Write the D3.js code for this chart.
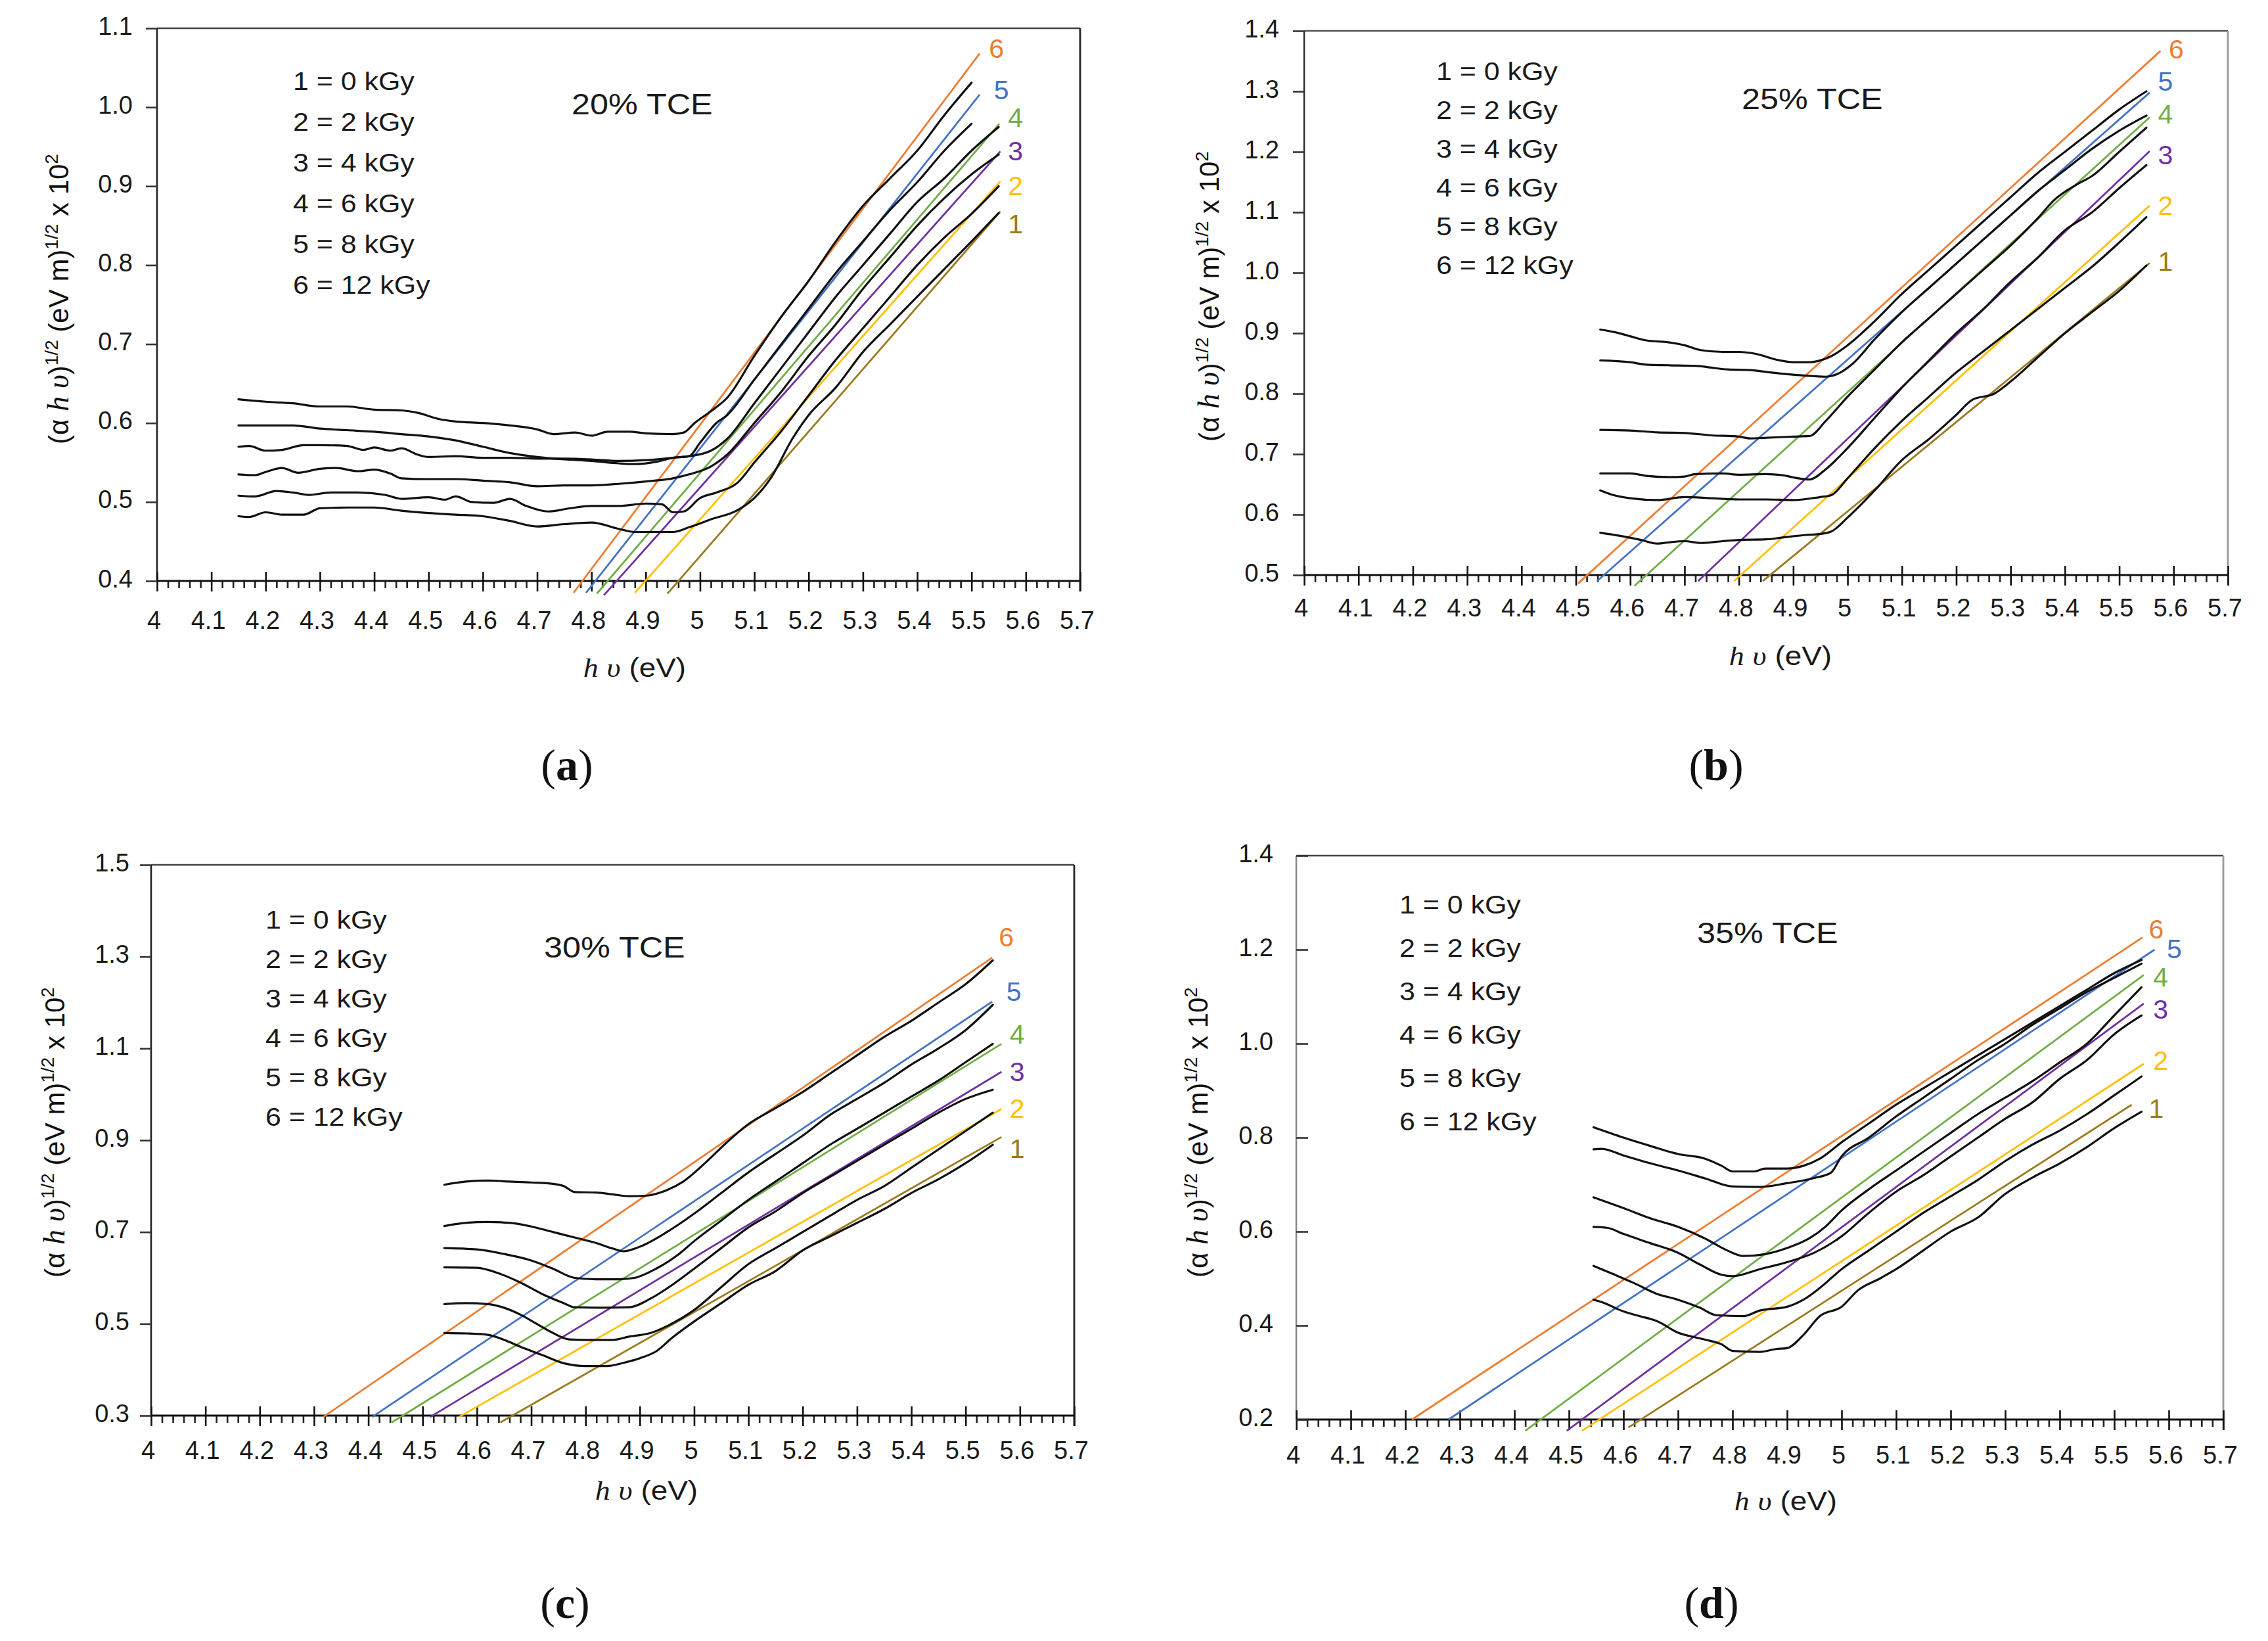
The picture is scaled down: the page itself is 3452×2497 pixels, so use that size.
<!DOCTYPE html>
<html><head><meta charset="utf-8">
<script src="https://cdn.jsdelivr.net/npm/d3@7"></script>
<style>body{margin:0;background:#fff} svg{display:block}</style>
</head><body>
<svg id="chart" width="3452" height="2497"></svg>
<script>
// ---------------- DATA ----------------
const xTickValues = [4,4.1,4.2,4.3,4.4,4.5,4.6,4.7,4.8,4.9,5,5.1,5.2,5.3,5.4,5.5,5.6,5.7];
const xTickLabels = ["4","4.1","4.2","4.3","4.4","4.5","4.6","4.7","4.8","4.9","5","5.1","5.2","5.3","5.4","5.5","5.6","5.7"];
const doseLabels = ["1 = 0 kGy","2 = 2 kGy","3 = 4 kGy","4 = 6 kGy","5 = 8 kGy","6 = 12 kGy"];
const lineNumbers = ["1","2","3","4","5","6"];
const panelTitles = ["20% TCE","25% TCE","30% TCE","35% TCE"];
const panelLetters = ["a","b","c","d"];

const yDomainA = [0.4,1.1], yTicksA = [0.4,0.5,0.6,0.7,0.8,0.9,1.0,1.1], yTickLabelsA = ["0.4","0.5","0.6","0.7","0.8","0.9","1.0","1.1"];
const yDomainB = [0.5,1.4], yTicksB = [0.5,0.6,0.7,0.8,0.9,1.0,1.1,1.2,1.3,1.4], yTickLabelsB = ["0.5","0.6","0.7","0.8","0.9","1.0","1.1","1.2","1.3","1.4"];
const yDomainC = [0.3,1.5], yTicksC = [0.3,0.5,0.7,0.9,1.1,1.3,1.5], yTickLabelsC = ["0.3","0.5","0.7","0.9","1.1","1.3","1.5"];
const yDomainD = [0.2,1.4], yTicksD = [0.2,0.4,0.6,0.8,1.0,1.2,1.4], yTickLabelsD = ["0.2","0.4","0.6","0.8","1.0","1.2","1.4"];

// fitted straight lines, series 1..6: [x0, y0, x1, y1]
const fitsA = [[4.940,0.384,5.553,0.868],[4.880,0.385,5.553,0.906],[4.823,0.382,5.553,0.944],[4.810,0.384,5.551,0.979],[4.790,0.385,5.515,1.016],[4.767,0.385,5.515,1.068]];
const fitsB = [[4.844,0.490,5.556,1.016],[4.791,0.490,5.556,1.111],[4.725,0.490,5.556,1.201],[4.608,0.482,5.556,1.257],[4.539,0.490,5.556,1.298],[4.504,0.486,5.576,1.367]];
const fitsC = [[4.643,0.285,5.566,0.907],[4.567,0.297,5.566,0.968],[4.514,0.297,5.566,1.049],[4.443,0.285,5.566,1.110],[4.407,0.297,5.549,1.202],[4.317,0.297,5.549,1.298]];
const fitsD = [[4.609,0.183,5.532,0.870],[4.524,0.176,5.554,0.957],[4.496,0.176,5.554,1.085],[4.420,0.176,5.554,1.146],[4.279,0.200,5.574,1.200],[4.212,0.200,5.552,1.226]];

// positions of the series numbers at the line ends [x, y]
const numPosA = [[5.581,0.852],[5.581,0.900],[5.581,0.944],[5.581,0.987],[5.555,1.022],[5.546,1.074]];
const numPosB = [[5.585,1.019],[5.585,1.111],[5.585,1.195],[5.585,1.262],[5.585,1.316],[5.605,1.370]];
const numPosC = [[5.595,0.881],[5.595,0.969],[5.595,1.049],[5.595,1.131],[5.589,1.224],[5.575,1.343]];
const numPosD = [[5.577,0.862],[5.585,0.964],[5.585,1.073],[5.585,1.141],[5.610,1.201],[5.577,1.243]];

// measured curves, series 1..6
const curvesA = [
 [[4.15,0.482],[4.17,0.481],[4.2,0.487],[4.23,0.484],[4.27,0.484],[4.3,0.492],[4.35,0.493],[4.4,0.493],[4.45,0.489],[4.5,0.486],[4.55,0.484],[4.6,0.482],[4.65,0.476],[4.7,0.469],[4.75,0.472],[4.8,0.474],[4.85,0.466],[4.88,0.462],[4.95,0.462],[4.98,0.468],[5.02,0.478],[5.07,0.49],[5.1,0.505],[5.13,0.53],[5.17,0.58],[5.2,0.61],[5.25,0.645],[5.3,0.69],[5.35,0.725],[5.4,0.76],[5.45,0.795],[5.5,0.83],[5.55,0.866]],
 [[4.15,0.508],[4.18,0.507],[4.22,0.514],[4.25,0.512],[4.28,0.509],[4.32,0.512],[4.37,0.512],[4.42,0.509],[4.45,0.504],[4.5,0.506],[4.53,0.503],[4.55,0.507],[4.58,0.5],[4.62,0.499],[4.65,0.504],[4.68,0.495],[4.72,0.488],[4.76,0.492],[4.8,0.495],[4.85,0.495],[4.9,0.498],[4.93,0.497],[4.95,0.487],[4.97,0.488],[5.0,0.505],[5.03,0.512],[5.07,0.525],[5.1,0.55],[5.15,0.59],[5.2,0.635],[5.25,0.68],[5.3,0.72],[5.35,0.76],[5.4,0.8],[5.45,0.835],[5.5,0.865],[5.55,0.9]],
 [[4.15,0.535],[4.18,0.534],[4.2,0.538],[4.23,0.543],[4.26,0.537],[4.3,0.542],[4.33,0.543],[4.37,0.539],[4.4,0.541],[4.43,0.536],[4.45,0.53],[4.5,0.529],[4.55,0.529],[4.6,0.527],[4.65,0.525],[4.7,0.52],[4.75,0.521],[4.8,0.521],[4.85,0.523],[4.9,0.526],[4.95,0.53],[4.98,0.535],[5.02,0.545],[5.05,0.56],[5.1,0.6],[5.15,0.64],[5.2,0.685],[5.25,0.725],[5.3,0.77],[5.35,0.81],[5.4,0.85],[5.45,0.885],[5.5,0.915],[5.55,0.94]],
 [[4.15,0.570],[4.17,0.571],[4.2,0.565],[4.23,0.566],[4.27,0.572],[4.3,0.572],[4.35,0.571],[4.38,0.566],[4.4,0.569],[4.43,0.565],[4.45,0.568],[4.48,0.56],[4.5,0.557],[4.55,0.558],[4.6,0.556],[4.65,0.556],[4.7,0.555],[4.75,0.555],[4.8,0.554],[4.85,0.552],[4.9,0.553],[4.95,0.556],[4.98,0.558],[5.02,0.565],[5.05,0.58],[5.1,0.625],[5.15,0.67],[5.2,0.715],[5.25,0.76],[5.3,0.8],[5.35,0.84],[5.4,0.88],[5.45,0.91],[5.5,0.945],[5.55,0.975]],
 [[4.15,0.597],[4.2,0.597],[4.25,0.597],[4.3,0.593],[4.35,0.591],[4.4,0.589],[4.45,0.586],[4.5,0.583],[4.55,0.578],[4.6,0.57],[4.65,0.562],[4.7,0.557],[4.75,0.554],[4.8,0.552],[4.85,0.549],[4.88,0.548],[4.92,0.551],[4.95,0.556],[4.98,0.558],[5.0,0.575],[5.03,0.6],[5.05,0.61],[5.1,0.655],[5.15,0.7],[5.2,0.745],[5.25,0.79],[5.3,0.83],[5.35,0.87],[5.4,0.905],[5.45,0.945],[5.5,0.979]],
 [[4.15,0.630],[4.2,0.627],[4.25,0.625],[4.3,0.621],[4.35,0.621],[4.4,0.617],[4.45,0.616],[4.48,0.613],[4.52,0.605],[4.55,0.602],[4.6,0.600],[4.65,0.597],[4.7,0.592],[4.73,0.586],[4.77,0.588],[4.8,0.584],[4.83,0.589],[4.87,0.589],[4.9,0.587],[4.95,0.586],[4.97,0.588],[4.99,0.6],[5.02,0.615],[5.05,0.632],[5.1,0.685],[5.15,0.735],[5.2,0.78],[5.25,0.83],[5.3,0.875],[5.35,0.91],[5.4,0.945],[5.45,0.99],[5.5,1.031]]
];
const curvesB = [
 [[4.545,0.57],[4.58,0.565],[4.62,0.558],[4.65,0.552],[4.67,0.554],[4.7,0.556],[4.73,0.553],[4.77,0.556],[4.8,0.558],[4.85,0.559],[4.88,0.562],[4.92,0.566],[4.95,0.568],[4.97,0.572],[5.0,0.595],[5.05,0.64],[5.1,0.69],[5.15,0.725],[5.2,0.765],[5.23,0.79],[5.27,0.80],[5.3,0.82],[5.35,0.86],[5.4,0.9],[5.45,0.935],[5.5,0.97],[5.55,1.012]],
 [[4.545,0.64],[4.57,0.632],[4.6,0.627],[4.65,0.624],[4.7,0.629],[4.75,0.627],[4.8,0.625],[4.85,0.625],[4.9,0.624],[4.95,0.629],[4.97,0.632],[5.0,0.66],[5.05,0.71],[5.1,0.755],[5.15,0.795],[5.2,0.835],[5.25,0.87],[5.3,0.905],[5.35,0.94],[5.4,0.975],[5.45,1.01],[5.5,1.05],[5.55,1.092]],
 [[4.545,0.668],[4.6,0.668],[4.63,0.664],[4.67,0.662],[4.7,0.663],[4.72,0.667],[4.77,0.668],[4.8,0.666],[4.85,0.667],[4.88,0.665],[4.91,0.66],[4.93,0.658],[4.96,0.675],[5.0,0.71],[5.05,0.76],[5.1,0.81],[5.15,0.855],[5.2,0.9],[5.25,0.94],[5.3,0.985],[5.35,1.025],[5.4,1.07],[5.45,1.1],[5.5,1.14],[5.55,1.178]],
 [[4.545,0.74],[4.6,0.739],[4.65,0.736],[4.7,0.735],[4.75,0.731],[4.8,0.729],[4.82,0.726],[4.85,0.727],[4.9,0.729],[4.93,0.73],[4.96,0.755],[5.0,0.795],[5.05,0.84],[5.1,0.885],[5.15,0.925],[5.2,0.965],[5.25,1.005],[5.3,1.045],[5.35,1.09],[5.38,1.12],[5.42,1.145],[5.45,1.16],[5.5,1.2],[5.55,1.24]],
 [[4.545,0.855],[4.6,0.852],[4.63,0.848],[4.67,0.847],[4.72,0.846],[4.75,0.843],[4.78,0.84],[4.82,0.839],[4.85,0.836],[4.88,0.833],[4.92,0.83],[4.96,0.828],[4.98,0.832],[5.01,0.85],[5.05,0.89],[5.1,0.935],[5.15,0.975],[5.2,1.015],[5.25,1.055],[5.3,1.095],[5.35,1.135],[5.4,1.17],[5.45,1.205],[5.5,1.235],[5.55,1.26]],
 [[4.545,0.906],[4.57,0.902],[4.6,0.895],[4.63,0.888],[4.67,0.885],[4.7,0.88],[4.73,0.872],[4.77,0.869],[4.8,0.869],[4.83,0.866],[4.87,0.856],[4.9,0.852],[4.93,0.852],[4.95,0.855],[4.97,0.862],[5.0,0.88],[5.05,0.92],[5.1,0.965],[5.15,1.005],[5.2,1.045],[5.25,1.085],[5.3,1.125],[5.35,1.165],[5.4,1.2],[5.45,1.235],[5.5,1.27],[5.55,1.3]]
];
const curvesC = [
 [[4.54,0.48],[4.58,0.479],[4.62,0.476],[4.65,0.465],[4.68,0.45],[4.72,0.432],[4.76,0.414],[4.8,0.408],[4.84,0.408],[4.87,0.415],[4.9,0.425],[4.93,0.44],[4.96,0.47],[5.0,0.505],[5.05,0.545],[5.1,0.585],[5.15,0.615],[5.2,0.66],[5.25,0.69],[5.3,0.72],[5.35,0.75],[5.4,0.785],[5.45,0.815],[5.5,0.85],[5.55,0.89]],
 [[4.54,0.543],[4.58,0.545],[4.62,0.543],[4.65,0.535],[4.68,0.52],[4.71,0.5],[4.74,0.48],[4.77,0.466],[4.8,0.465],[4.85,0.465],[4.88,0.472],[4.92,0.48],[4.95,0.495],[5.0,0.53],[5.05,0.58],[5.1,0.63],[5.15,0.665],[5.2,0.7],[5.25,0.735],[5.3,0.77],[5.35,0.8],[5.4,0.84],[5.45,0.88],[5.5,0.92],[5.55,0.96]],
 [[4.54,0.623],[4.6,0.622],[4.64,0.61],[4.68,0.59],[4.72,0.565],[4.76,0.545],[4.78,0.536],[4.83,0.535],[4.88,0.536],[4.92,0.555],[4.96,0.585],[5.0,0.62],[5.05,0.665],[5.1,0.71],[5.15,0.745],[5.2,0.785],[5.25,0.82],[5.3,0.855],[5.35,0.89],[5.4,0.925],[5.45,0.96],[5.5,0.99],[5.55,1.01]],
 [[4.54,0.665],[4.6,0.662],[4.65,0.652],[4.7,0.638],[4.74,0.62],[4.78,0.6],[4.82,0.597],[4.86,0.597],[4.89,0.6],[4.93,0.62],[4.97,0.65],[5.0,0.68],[5.05,0.725],[5.1,0.77],[5.15,0.81],[5.2,0.85],[5.25,0.89],[5.3,0.925],[5.35,0.96],[5.4,0.995],[5.45,1.03],[5.5,1.07],[5.55,1.11]],
 [[4.54,0.713],[4.58,0.72],[4.62,0.722],[4.66,0.72],[4.7,0.712],[4.74,0.7],[4.78,0.688],[4.82,0.676],[4.85,0.664],[4.87,0.658],[4.9,0.668],[4.95,0.7],[5.0,0.74],[5.05,0.785],[5.1,0.83],[5.15,0.87],[5.2,0.91],[5.25,0.955],[5.3,0.99],[5.35,1.025],[5.4,1.065],[5.45,1.1],[5.5,1.14],[5.55,1.195]],
 [[4.54,0.803],[4.58,0.81],[4.62,0.812],[4.66,0.81],[4.7,0.808],[4.74,0.805],[4.76,0.80],[4.78,0.787],[4.82,0.786],[4.85,0.782],[4.88,0.778],[4.91,0.779],[4.94,0.787],[4.98,0.81],[5.02,0.85],[5.06,0.895],[5.1,0.935],[5.15,0.97],[5.2,1.005],[5.25,1.045],[5.3,1.085],[5.35,1.125],[5.4,1.16],[5.45,1.2],[5.5,1.24],[5.55,1.292]]
];
const curvesD = [
 [[4.545,0.455],[4.56,0.45],[4.6,0.43],[4.63,0.42],[4.66,0.41],[4.7,0.385],[4.75,0.37],[4.78,0.36],[4.8,0.346],[4.85,0.344],[4.88,0.35],[4.9,0.352],[4.93,0.38],[4.96,0.42],[5.0,0.44],[5.03,0.475],[5.07,0.5],[5.1,0.52],[5.15,0.56],[5.2,0.6],[5.25,0.63],[5.3,0.68],[5.35,0.715],[5.4,0.745],[5.45,0.78],[5.5,0.82],[5.55,0.855]],
 [[4.545,0.527],[4.58,0.51],[4.62,0.49],[4.66,0.468],[4.7,0.455],[4.74,0.438],[4.77,0.422],[4.82,0.42],[4.85,0.432],[4.9,0.44],[4.93,0.455],[4.96,0.48],[5.0,0.52],[5.05,0.56],[5.1,0.6],[5.15,0.64],[5.2,0.675],[5.25,0.71],[5.3,0.75],[5.35,0.785],[5.4,0.815],[5.45,0.85],[5.5,0.89],[5.55,0.93]],
 [[4.545,0.61],[4.57,0.608],[4.6,0.595],[4.65,0.575],[4.7,0.555],[4.74,0.53],[4.78,0.508],[4.8,0.505],[4.85,0.52],[4.9,0.535],[4.95,0.555],[5.0,0.59],[5.05,0.64],[5.1,0.685],[5.15,0.72],[5.2,0.76],[5.25,0.8],[5.3,0.84],[5.35,0.875],[5.4,0.925],[5.45,0.965],[5.5,1.02],[5.55,1.06]],
 [[4.545,0.673],[4.6,0.65],[4.65,0.628],[4.7,0.61],[4.75,0.585],[4.79,0.56],[4.82,0.548],[4.86,0.552],[4.9,0.565],[4.94,0.585],[4.97,0.61],[5.0,0.645],[5.05,0.69],[5.1,0.73],[5.15,0.77],[5.2,0.81],[5.25,0.85],[5.3,0.885],[5.35,0.92],[5.4,0.96],[5.45,1.0],[5.5,1.06],[5.55,1.12]],
 [[4.545,0.775],[4.56,0.776],[4.6,0.762],[4.65,0.745],[4.7,0.73],[4.75,0.713],[4.8,0.696],[4.85,0.695],[4.9,0.703],[4.95,0.714],[4.98,0.725],[5.0,0.76],[5.05,0.8],[5.1,0.845],[5.15,0.885],[5.2,0.925],[5.25,0.965],[5.3,1.0],[5.35,1.04],[5.4,1.075],[5.45,1.11],[5.5,1.14],[5.55,1.17]],
 [[4.545,0.822],[4.6,0.8],[4.65,0.782],[4.7,0.765],[4.75,0.755],[4.78,0.74],[4.8,0.728],[4.84,0.728],[4.86,0.734],[4.9,0.734],[4.93,0.74],[4.96,0.755],[5.0,0.79],[5.05,0.83],[5.1,0.87],[5.15,0.905],[5.2,0.94],[5.25,0.975],[5.3,1.01],[5.35,1.045],[5.4,1.08],[5.45,1.115],[5.5,1.15],[5.55,1.178]]
];

// ---------------- STYLE / LAYOUT ----------------
const seriesColors = ["#9C7A1E","#FFC000","#7030A0","#70AD47","#4472C4","#ED7D31"];
const SANS = "'Liberation Sans', Arial, Helvetica, sans-serif";
const SERIF = "'Liberation Serif', 'DejaVu Serif', serif";

const layouts = [
 {left:239,right:1644,top:43,bottom:884, yDomain:yDomainA,yTicks:yTicksA,yLabels:yTickLabelsA,curves:curvesA,fits:fitsA,nums:numPosA,
  titleX:870,titleY:174, legX:446,legY0:137,legDy:62, yLabX:104,yLabCY:455, xLabCX:966,xLabY:1030, xTickOff:73, yTickIn:false, yLabelGap:37,
  subX:863,subY:1187, leftC:"#222",rightC:"#222",topC:"#444"},
 {left:1985,right:3391,top:47,bottom:875, yDomain:yDomainB,yTicks:yTicksB,yLabels:yTickLabelsB,curves:curvesB,fits:fitsB,nums:numPosB,
  titleX:2651,titleY:166, legX:2186,legY0:122,legDy:59, yLabX:1855,yLabCY:451, xLabCX:2710,xLabY:1012, xTickOff:63, yTickIn:false, yLabelGap:38,
  subX:2612,subY:1187, leftC:"#333",rightC:"#9a9a9a",topC:"#555"},
 {left:230,right:1635,top:1316,bottom:2154, yDomain:yDomainC,yTicks:yTicksC,yLabels:yTickLabelsC,curves:curvesC,fits:fitsC,nums:numPosC,
  titleX:828,titleY:1457, legX:404,legY0:1413,legDy:60, yLabX:98,yLabCY:1723, xLabCX:984,xLabY:2282, xTickOff:66, yTickIn:false, yLabelGap:33,
  subX:860,subY:2462, leftC:"#222",rightC:"#222",topC:"#444"},
 {left:1973,right:3384,top:1302,bottom:2160, yDomain:yDomainD,yTicks:yTicksD,yLabels:yTickLabelsD,curves:curvesD,fits:fitsD,nums:numPosD,
  titleX:2583,titleY:1435, legX:2130,legY0:1390,legDy:66, yLabX:1838,yLabCY:1723, xLabCX:2718,xLabY:2298, xTickOff:67, yTickIn:true, yLabelGap:35,
  subX:2605,subY:2462, leftC:"#8a8a8a",rightC:"#9a9a9a",topC:"#444"}
];

const svg = d3.select("#chart");
svg.append("rect").attr("width",3452).attr("height",2497).attr("fill","#fff");

const minorTicks = d3.range(0,86).filter(i => i % 5 !== 0).map(i => 4 + i*0.02);

function stretchText(g, x, y, str, size, anchor, sx){
  return g.append("text")
    .attr("transform", `translate(${x},${y}) scale(${sx},1)`)
    .attr("text-anchor", anchor)
    .attr("font-family", SANS).attr("font-size", size).attr("fill","#1a1a1a")
    .text(str);
}

layouts.forEach((L, pi) => {
  const g = svg.append("g");
  const x = d3.scaleLinear().domain([4,5.7]).range([L.left, L.right]);
  const y = d3.scaleLinear().domain(L.yDomain).range([L.bottom, L.top]);

  // frame
  g.append("line").attr("x1",L.left).attr("x2",L.right).attr("y1",L.top).attr("y2",L.top).attr("stroke",L.topC).attr("stroke-width",2.6);
  g.append("line").attr("x1",L.right).attr("x2",L.right).attr("y1",L.top).attr("y2",L.bottom+16).attr("stroke",L.rightC).attr("stroke-width",2.8);
  g.append("line").attr("x1",L.left).attr("x2",L.left).attr("y1",L.top).attr("y2",L.bottom).attr("stroke",L.leftC).attr("stroke-width",2.6);

  // x axis minor
  const xMinor = g.append("g").attr("transform",`translate(0,${L.bottom})`)
    .call(d3.axisBottom(x).tickValues(minorTicks).tickSize(11).tickFormat(""));
  xMinor.select(".domain").remove();
  xMinor.selectAll("line").attr("stroke","#222").attr("stroke-width",2.6);
  // x axis major
  const xMajor = g.append("g").attr("transform",`translate(0,${L.bottom})`)
    .call(d3.axisBottom(x).tickValues(xTickValues).tickSize(16).tickFormat((d,i)=>xTickLabels[i]));
  xMajor.select(".domain").attr("stroke","#111").attr("stroke-width",2.8).attr("d",`M${L.left},0H${L.right}`);
  xMajor.selectAll(".tick line").attr("y1",-14).attr("y2",16).attr("stroke","#111").attr("stroke-width",2.6);
  xMajor.selectAll(".tick text").attr("y",L.xTickOff).attr("dy",null).attr("x",-5)
    .attr("font-family",SANS).attr("font-size",38).attr("fill","#1a1a1a");

  // y axis
  const yAx = g.append("g").attr("transform",`translate(${L.left},0)`)
    .call(d3.axisLeft(y).tickValues(L.yTicks).tickSize(L.yTickIn ? -18 : 17).tickFormat((d,i)=>L.yLabels[i]));
  yAx.select(".domain").remove();
  yAx.selectAll(".tick line").attr("stroke","#333").attr("stroke-width",2.6);
  yAx.selectAll(".tick text").attr("x",-L.yLabelGap).attr("dy",null).attr("y",9)
    .attr("font-family",SANS).attr("font-size",38).attr("fill","#1a1a1a");

  // fitted lines
  g.append("g").selectAll("line").data(L.fits).join("line")
    .attr("x1",d=>x(d[0])).attr("y1",d=>y(d[1])).attr("x2",d=>x(d[2])).attr("y2",d=>y(d[3]))
    .attr("stroke",(d,i)=>seriesColors[i]).attr("stroke-width",2.8);

  // measured curves
  const line = d3.line().x(d=>x(d[0])).y(d=>y(d[1])).curve(d3.curveMonotoneX);
  g.append("g").selectAll("path").data(L.curves).join("path")
    .attr("d",line).attr("fill","none").attr("stroke","#111").attr("stroke-width",3.2)
    .attr("stroke-linejoin","round").attr("stroke-linecap","round");

  // series numbers
  g.append("g").selectAll("text").data(L.nums).join("text")
    .attr("x",d=>x(d[0])).attr("y",d=>y(d[1])+14)
    .attr("text-anchor","middle").attr("font-family",SANS).attr("font-size",41)
    .attr("fill",(d,i)=>seriesColors[i]).text((d,i)=>lineNumbers[i]);

  // legend
  doseLabels.forEach((t,i)=> stretchText(g, L.legX, L.legY0 + i*L.legDy, t, 39, "start", 1.1));
  // title
  stretchText(g, L.titleX, L.titleY, panelTitles[pi], 45, "start", 1.12);

  // x label
  const xl = g.append("text").attr("transform",`translate(${L.xLabCX},${L.xLabY}) scale(1.12,1)`)
    .attr("text-anchor","middle").attr("font-family",SANS).attr("font-size",41).attr("fill","#1a1a1a");
  xl.append("tspan").attr("font-family",SERIF).attr("font-style","italic").text("h");
  xl.append("tspan").text(" ");
  xl.append("tspan").attr("font-family",SERIF).attr("font-style","italic").text("υ");
  xl.append("tspan").text(" (eV)");

  // y label
  const yl = g.append("text").attr("transform",`translate(${L.yLabX},${L.yLabCY}) rotate(-90)`)
    .attr("text-anchor","middle").attr("font-family",SANS).attr("font-size",42).attr("fill","#111");
  yl.append("tspan").text("(α ");
  yl.append("tspan").attr("font-family",SERIF).attr("font-style","italic").attr("font-size",46).text("h");
  yl.append("tspan").text(" ");
  yl.append("tspan").attr("font-family",SERIF).attr("font-style","italic").attr("font-size",46).text("υ");
  yl.append("tspan").text(")");
  yl.append("tspan").attr("font-size",28).attr("dy",-16).text("1/2");
  yl.append("tspan").attr("dy",16).text(" (eV m)");
  yl.append("tspan").attr("font-size",28).attr("dy",-16).text("1/2");
  yl.append("tspan").attr("dy",16).text(" x 10");
  yl.append("tspan").attr("font-size",28).attr("dy",-16).text("2");

  // panel letter
  const sl = g.append("text").attr("x",L.subX).attr("y",L.subY).attr("text-anchor","middle")
    .attr("font-family",SERIF).attr("font-size",68).attr("fill","#111");
  sl.append("tspan").text("(");
  sl.append("tspan").attr("font-weight","bold").text(panelLetters[pi]);
  sl.append("tspan").text(")");
});
</script>
</body></html>
